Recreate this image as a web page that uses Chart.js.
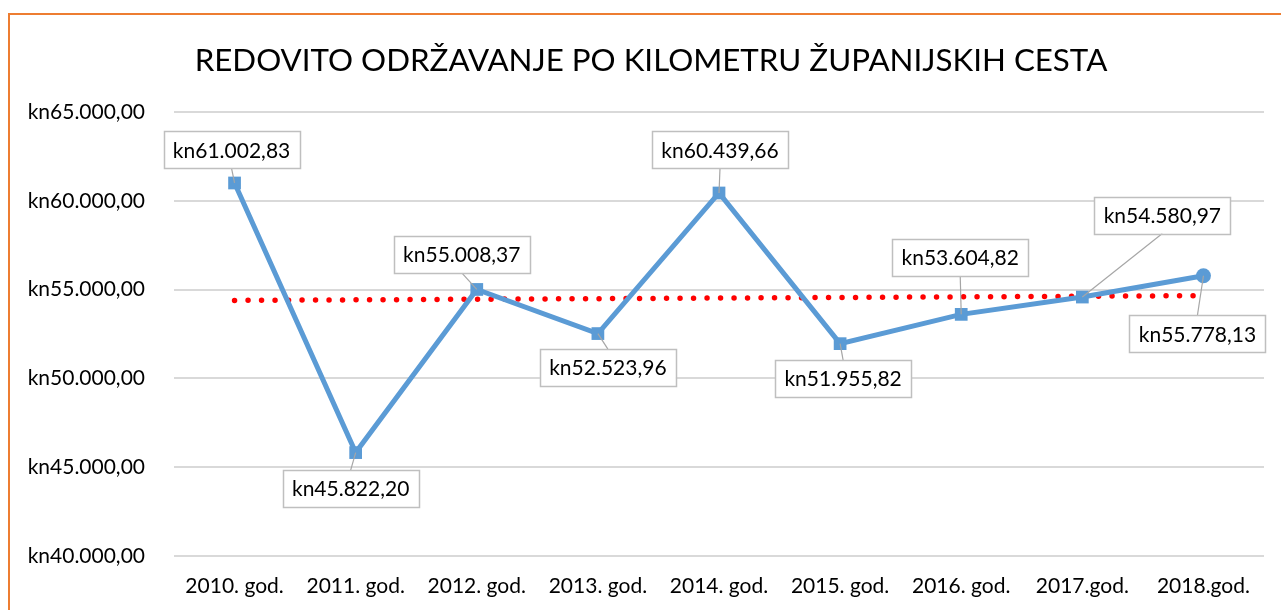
<!DOCTYPE html>
<html>
<head>
<meta charset="utf-8">
<script src="https://cdn.jsdelivr.net/npm/chart.js@4/dist/chart.umd.min.js"></script>
<style>
  html, body { margin: 0; padding: 0; background: #fff; }
  #wrap { position: relative; width: 1281px; height: 610px; overflow: hidden; }
  #frame { position: absolute; left: 8px; top: 13px; width: 1400px; height: 700px;
           border-top: 2px solid #ED7D31; border-left: 2px solid #ED7D31; pointer-events: none; }
  canvas { position: absolute; left: 0; top: 0; }
</style>
</head>
<body>
<div id="wrap">
  <canvas id="c" width="1281" height="610"></canvas>
  <div id="frame"></div>
</div>
<script>
const TITLE = "REDOVITO ODRŽAVANJE PO KILOMETRU ŽUPANIJSKIH CESTA";
const categories = ["2010. god.", "2011. god.", "2012. god.", "2013. god.", "2014. god.", "2015. god.", "2016. god.", "2017.god.", "2018.god."];
const values = [61002.83, 45822.20, 55008.37, 52523.96, 60439.66, 51955.82, 53604.82, 54580.97, 55778.13];
const trendStart = 54390;
const trendEnd = 54658;
const yMin = 40000, yMax = 65000, yStep = 5000;

// label box offsets (style): centre of box relative to point, in px
const labelOffsets = [[-3,-33],[-5,36],[-15,-35],[10,34],[1,-43],[3,35],[-1,-57],[80,-82],[-6,58]];

function fmtKn(v) {
  const fixed = Math.abs(v).toFixed(2);
  let [ip, dp] = fixed.split('.');
  ip = ip.replace(/\B(?=(\d{3})+(?!\d))/g, '.');
  return 'kn' + (v < 0 ? '-' : '') + ip + ',' + dp;
}

const FONT = "Lato, 'Open Sans', sans-serif";

const titlePlugin = {
  id: 'customTitle',
  afterDraw(chart) {
    const ctx = chart.ctx;
    ctx.save();
    ctx.font = "31.3px " + FONT;
    ctx.fillStyle = '#000';
    ctx.textAlign = 'center';
    ctx.textBaseline = 'middle';
    ctx.fillText(TITLE, 651, 61);
    ctx.restore();
  }
};

const labelPlugin = {
  id: 'boxLabels',
  afterDatasetsDraw(chart) {
    const ctx = chart.ctx;
    const meta = chart.getDatasetMeta(0);
    const W = 136, H = 37;
    ctx.save();
    meta.data.forEach((pt, i) => {
      const [dx, dy] = labelOffsets[i];
      const cx = pt.x + dx, cy = pt.y + dy;
      const ey = dy < 0 ? cy + H / 2 : cy - H / 2;
      ctx.strokeStyle = '#a6a6a6';
      ctx.lineWidth = 1.2;
      ctx.beginPath();
      ctx.moveTo(pt.x, pt.y);
      ctx.lineTo(cx, ey);
      ctx.stroke();
      ctx.fillStyle = '#fff';
      ctx.fillRect(cx - W / 2, cy - H / 2, W, H);
      ctx.strokeStyle = '#bfbfbf';
      ctx.lineWidth = 1.5;
      ctx.strokeRect(Math.round(cx - W / 2) + 0.5, Math.round(cy - H / 2) + 0.5, W, H);
      ctx.fillStyle = '#000';
      ctx.font = "21px " + FONT;
      ctx.textAlign = 'center';
      ctx.textBaseline = 'middle';
      ctx.fillText(fmtKn(values[i]), cx, cy + 1);
    });
    ctx.restore();
  }
};

new Chart(document.getElementById('c'), {
  type: 'line',
  data: {
    labels: categories,
    datasets: [
      {
        label: 'Održavanje',
        data: values,
        borderColor: '#5B9BD5',
        backgroundColor: '#5B9BD5',
        borderWidth: 5,
        pointStyle: values.map((v, i) => i === values.length - 1 ? 'circle' : 'rect'),
        pointRadius: values.map((v, i) => i === values.length - 1 ? 7.5 : 9),
        pointBorderWidth: 0,
        tension: 0,
        order: 1
      },
      {
        label: 'Trend',
        data: [{x: categories[0], y: trendStart}, {x: categories[categories.length - 1], y: trendEnd}],
        borderColor: '#FF0000',
        borderWidth: 5.5,
        borderDash: [0, 13.5],
        borderCapStyle: 'round',
        pointRadius: 0,
        fill: false,
        order: 2
      }
    ]
  },
  options: {
    responsive: false,
    animation: false,
    layout: { padding: { top: 112, right: 17, left: 0, bottom: 0 } },
    plugins: {
      legend: { display: false },
      tooltip: { enabled: false },
      title: { display: false }
    },
    scales: {
      x: {
        offset: true,
        grid: { display: false, drawTicks: false },
        border: { display: false },
        ticks: { color: '#000', font: { family: FONT, size: 21 }, padding: 18, maxRotation: 0, autoSkip: false },
        afterFit(s) { s.height = 54; }
      },
      y: {
        min: yMin, max: yMax,
        grid: { color: '#d9d9d9', lineWidth: 2, drawTicks: false },
        border: { display: false },
        ticks: { stepSize: yStep, color: '#000', font: { family: FONT, size: 21 }, padding: 29,
                 callback: v => fmtKn(v) },
        afterFit(s) { s.width = 174; }
      }
    }
  },
  plugins: [titlePlugin, labelPlugin]
});
</script>
</body>
</html>
